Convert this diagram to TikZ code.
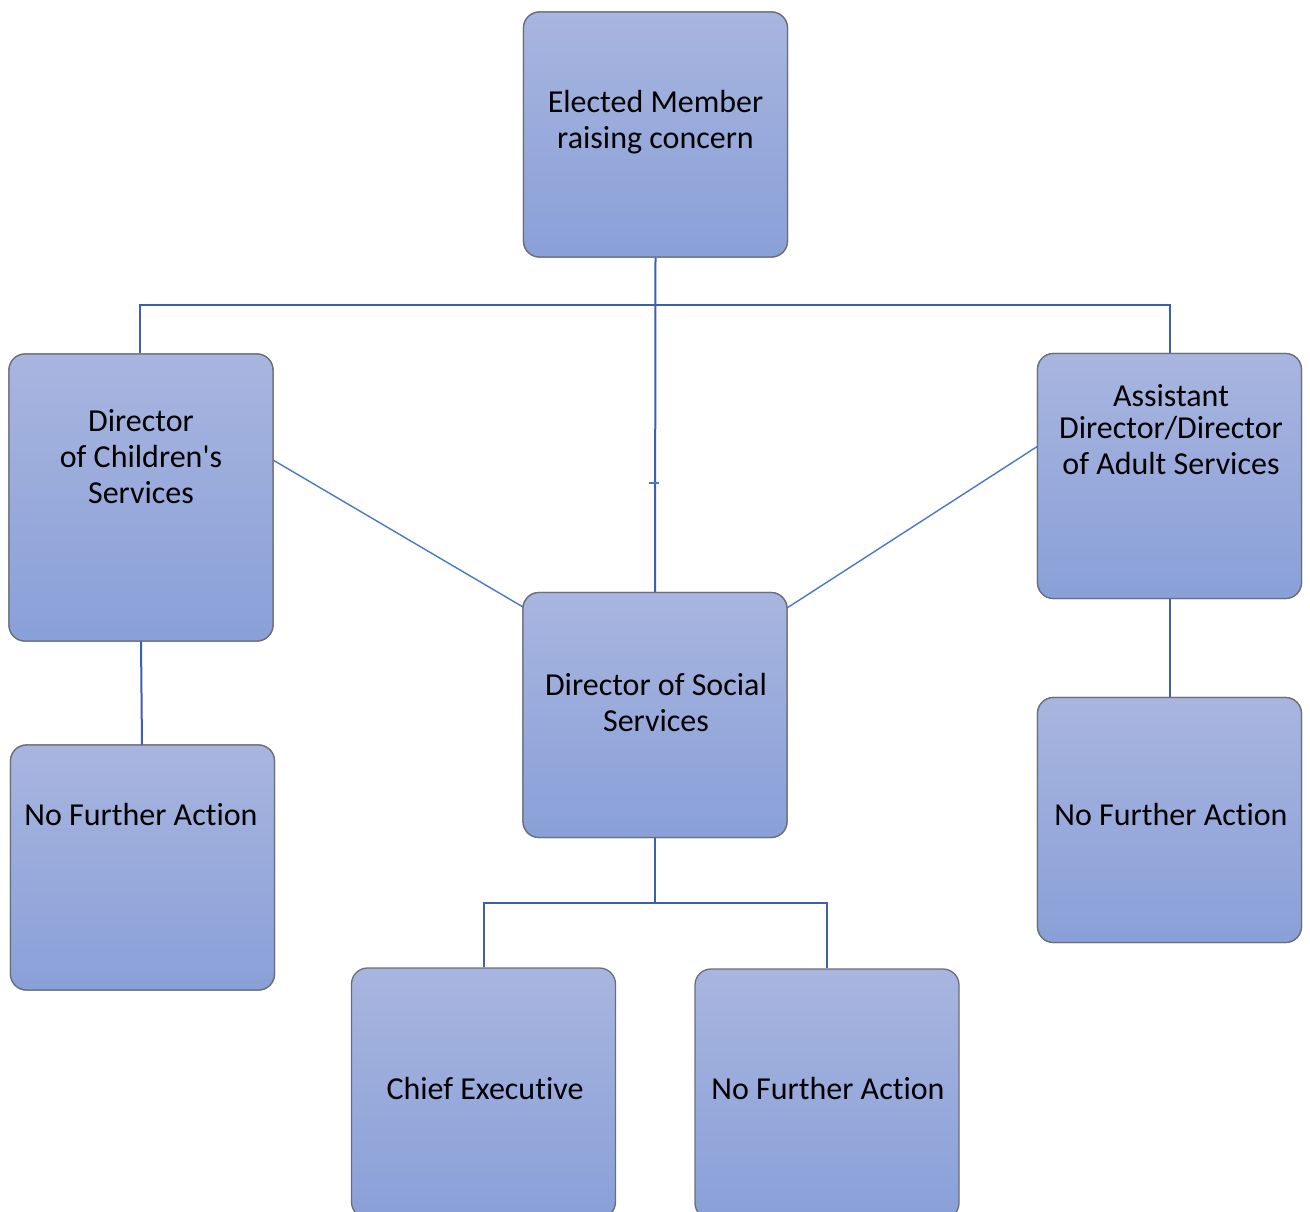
\documentclass[tikz,border=0pt]{standalone}
\usepackage{fontspec}
\setmainfont{Carlito}[Ligatures={NoCommon,TeXOff}]
\definecolor{boxtop}{HTML}{A8B5DF}
\definecolor{boxbot}{HTML}{89A0D8}
\definecolor{boxline}{HTML}{6A6E7A}
\definecolor{conn}{HTML}{3D60AE}
\definecolor{diag}{HTML}{4A78C6}
\tikzset{
  box/.style={rectangle, rounded corners=16pt, draw=boxline, line width=1.3pt,
    top color=boxtop, bottom color=boxbot, minimum width=264pt, minimum height=245pt, inner sep=0pt},
  lbl/.style={align=center, font=\fontsize{32}{36}\selectfont, text=black, inner sep=0pt},
  conline/.style={draw=conn, line width=2pt},
  diagline/.style={draw=diag, line width=1.4pt}
}
\begin{document}
\begin{tikzpicture}[x=1pt,y=-1pt]
\useasboundingbox (0,0) rectangle (1310,1212);
\clip (0,0) rectangle (1310,1212);
% boxes
\node[box] (elect) at (655.5,134.5) {};
\node[box, minimum height=287pt] (child) at (141,497.5) {};
\node[box] (adult) at (1169.5,476) {};
\node[box] (dss) at (655,715) {};
\node[box] (nfal) at (142.5,867.5) {};
\node[box] (nfar) at (1169.5,820) {};
\node[box, minimum height=250pt] (chief) at (483.5,1093) {};
\node[box, minimum height=250pt] (nfam) at (827,1094) {};
% connectors
\coordinate (hl) at (140,305);
\coordinate (hr) at (1170,305);
\draw[conline] (elect.south) -- (dss.north);
\draw[conline] (child.north -| hl) -- (hl) -- (hr) -- (adult.north -| hr);
\coordinate (tk1) at (649,483);
\coordinate (tk2) at (659,483);
\draw[draw=diag, line width=1.6pt] (tk1) -- (tk2);
\draw[diagline] (273,460) -- (523,607);
\draw[diagline] (1038,446) -- (787,608);
\draw[conline] (141,641) -- (142,745);
\draw[conline] (adult.south) -- (nfar.north);
\coordinate (bl) at (484,903);
\coordinate (br) at (827,903);
\draw[conline] (dss.south) -- (655,903);
\draw[conline] (chief.north -| bl) -- (bl) -- (br) -- (nfam.north -| br);
% redraw boxes over lines
\node[box] at (elect) {};
\node[box, minimum height=287pt] at (child) {};
\node[box] at (adult) {};
\node[box] at (dss) {};
\node[box] at (nfal) {};
\node[box] at (nfar) {};
% labels
\node[lbl] (telect) at (655.5,122) {Elected Member\\raising concern};
\node[lbl] (tchild) at (141,457) {Director\\of Children's\\Services};
\node[lbl] (tadult) at (1171,430) {Assistant\\[-4pt]Director/Director\\of Adult Services};
\node[lbl] (tdss) at (656,703) {Director of Social\\Services};
\node[lbl] (tnfal) at (141,815) {No Further Action};
\node[lbl] (tnfar) at (1171,815) {No Further Action};
\node[lbl] (tchief) at (485,1088) {Chief Executive};
\node[lbl] (tnfam) at (828,1088) {No Further Action};
\end{tikzpicture}
\end{document}
